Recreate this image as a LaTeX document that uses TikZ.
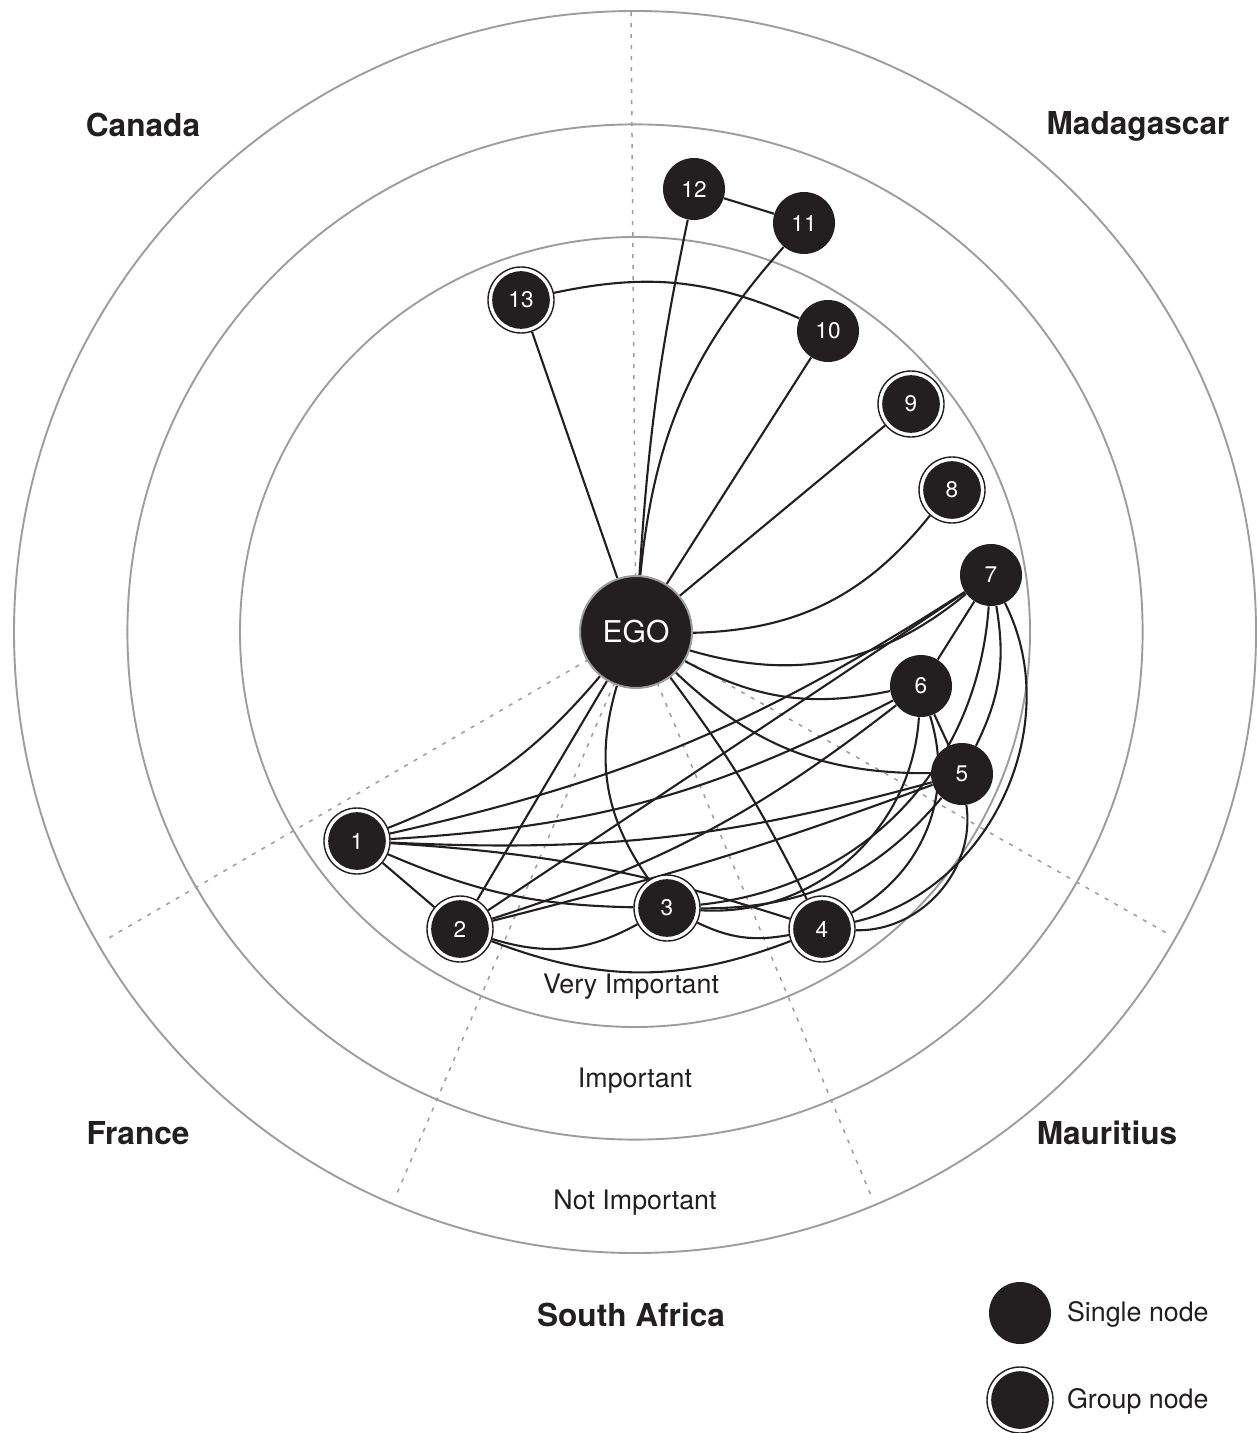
\documentclass[tikz,border=0pt]{standalone}
\usepackage{fontspec}
\setmainfont{TeX Gyre Heros}
\pgfdeclarelayer{bg}
\pgfsetlayers{bg,main}
\definecolor{ink}{HTML}{231F20}
\definecolor{ringgray}{HTML}{9D9D9D}
\begin{document}
\begin{tikzpicture}[x=0.5pt,y=-0.5pt,
  numfont/.style={font=\fontsize{11.3pt}{13pt}\selectfont},
  single/.style={circle, fill=ink, minimum size=31pt, inner sep=0pt, text=white, numfont},
  group/.style={circle, draw=ink, line width=0.7pt, fill=white, minimum size=33pt, inner sep=0pt,
    text=white, numfont,
    path picture={\fill[ink] (path picture bounding box.center) circle[radius=14.4pt];}},
  egonode/.style={circle, fill=ink, draw=ringgray, line width=1pt, minimum size=56pt, inner sep=0pt,
    text=white, font=\fontsize{15pt}{17pt}\selectfont},
  link/.style={draw=ink, line width=1.05pt},
  ringline/.style={draw=ringgray, line width=0.95pt},
  divider/.style={draw=ringgray, line width=0.75pt, dash pattern=on 2pt off 3.5pt},
  country/.style={text=ink, font=\fontsize{15.8pt}{18pt}\selectfont\bfseries},
  level/.style={text=ink, font=\fontsize{13.4pt}{16pt}\selectfont},
  legendtext/.style={text=ink, font=\fontsize{13.4pt}{16pt}\selectfont, anchor=west}
]
\useasboundingbox (0,0) rectangle (1257,1433);

% centre of the rings
\coordinate (c) at (635,632);

% ego and alters
\node[egonode] (ego) at (636,632) {EGO};
\node[single] (n12) at (694,189) {12};
\node[single] (n11) at (804,223) {11};
\node[group]  (n13) at (521,300) {13};
\node[single] (n10) at (828,331) {10};
\node[group]  (n9)  at (911,404) {9};
\node[group]  (n8)  at (952,490) {8};
\node[single] (n7)  at (991,575) {7};
\node[single] (n6)  at (921,686) {6};
\node[single] (n5)  at (962,774) {5};
\node[group]  (n1)  at (357,841) {1};
\node[group]  (n2)  at (460,929) {2};
\node[group]  (n3)  at (667,908) {3};
\node[group]  (n4)  at (822,929) {4};

% country labels
\node[country] (canada) at (143,125) {Canada};
\node[country] (madagascar) at (1138,126) {Madagascar};
\node[country] (france) at (138,1133) {France};
\node[country] (mauritius) at (1107,1133) {Mauritius};
\node[country] (southafrica) at (631,1315) {South Africa};

% ring labels
\node[level] (vimp) at (631,987) {Very Important};
\node[level] (imp) at (635,1081) {Important};
\node[level] (nimp) at (635,1203) {Not Important};

% legend
\node[single] (legsingle) at (1020,1313) {};
\node[group]  (leggroup)  at (1020,1400) {};
\node[legendtext] (legsingletext) at (1060,1314) {Single node};
\node[legendtext] (leggrouptext)  at (1060,1401) {Group node};

% free ends of the sector dividers
\coordinate (d0) at (631,12);
\coordinate (d1) at (107,939);
\coordinate (d2) at (395,1198);
\coordinate (d3) at (872,1198);
\coordinate (d4) at (1170,935);

\begin{pgfonlayer}{bg}
  \fill[white] (0,0) rectangle (1257,1433);
  % importance rings
  \draw[ringline] (c) circle[radius=197.5pt];
  \draw[ringline] (c) circle[radius=253.8pt];
  \draw[ringline] (c) circle[radius=310.5pt];
  % sector dividers
  \foreach \d in {d0,d1,d2,d3,d4} \draw[divider] (ego.center) -- (\d);

  % ties of ego
  \draw[link] (ego) -- (n13);
  \draw[link] (ego) to[bend left=4] (n12);
  \draw[link] (ego) to[bend left=18] (n11);
  \draw[link] (ego) -- (n10);
  \draw[link] (ego) -- (n9);
  \draw[link] (ego) to[bend right=25] (n8);
  \draw[link] (ego) to[bend right=28] (n7);
  \draw[link] (ego) to[bend right=20] (n6);
  \draw[link] (ego) to[bend right=22] (n5);
  \draw[link] (ego) to[bend left=5] (n4);
  \draw[link] (ego) to[bend right=26] (n3);
  \draw[link] (ego) -- (n2);
  \draw[link] (ego) to[bend left=14] (n1);

  % ties among alters
  \draw[link] (n13) to[bend left=18] (n10);
  \draw[link] (n12) -- (n11);
  \draw[link] (n1) -- (n2);
  \draw[link] (n1) to[bend right=11] (n3);
  \draw[link] (n1) to[bend left=7] (n4);
  \draw[link] (n1) to[bend right=9] (n5);
  \draw[link] (n1) to[bend right=12] (n6);
  \draw[link] (n1) to[bend right=10] (n7);
  \draw[link] (n2) to[bend right=23] (n3);
  \draw[link] (n2) to[bend right=21] (n4);
  \draw[link] (n2) to[bend right=3] (n5);
  \draw[link] (n2) to[bend right=10] (n6);
  \draw[link] (n2) -- (n7);
  \draw[link] (n3) to[bend right=18] (n4);
  \draw[link] (n3) to[bend right=25] (n5);
  \draw[link] (n3) to[bend right=45] (n6);
  \draw[link] (n3) to[bend right=40] (n7);
  \draw[link] (n4) to[bend right=50] (n5);
  \draw[link] (n4) to[bend right=39] (n6);
  \draw[link] (n4) to[bend right=52] (n7);
  \draw[link] (n5) -- (n6);
  \draw[link] (n5) to[bend right=18] (n7);
  \draw[link] (n6) -- (n7);
\end{pgfonlayer}
\end{tikzpicture}
\end{document}
